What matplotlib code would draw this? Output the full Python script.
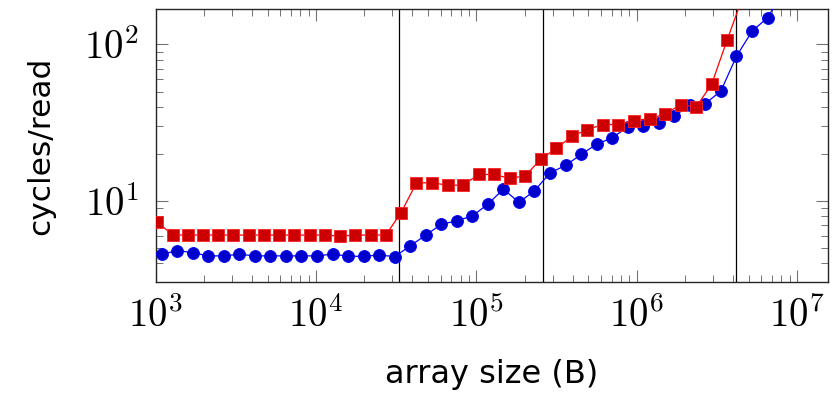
import matplotlib
matplotlib.use('Agg')
import matplotlib.pyplot as plt
import numpy as np
from matplotlib.ticker import LogLocator, NullFormatter, FuncFormatter

plt.rcParams['mathtext.fontset'] = 'cm'
plt.rcParams['font.family'] = 'DejaVu Sans'

# blue series (circles)
blue_size = [1090, 1362, 1703, 2129, 2661, 3326, 4158, 5198, 6497, 8121,
             10152, 12690, 15862, 19828, 24785, 30981, 38726, 48408, 60510, 75637,
             94546, 118183, 147729, 184661, 230826, 288533, 360666, 450833, 563541, 704426,
             880533, 1100666, 1375832, 1719791, 2149738, 2687173, 3358966, 4198707, 5248384, 6560480,
             8200600]
blue_cycles = [4.58, 4.83, 4.69, 4.47, 4.47, 4.58, 4.47, 4.47, 4.47, 4.47,
               4.47, 4.59, 4.45, 4.44, 4.53, 4.42, 5.18, 6.07, 7.10, 7.49,
               8.03, 9.57, 11.92, 9.81, 11.63, 15.14, 16.88, 19.84, 23.07, 25.3,
               29.7, 30.2, 31.5, 34.9, 40.8, 41.9, 50.4, 83.9, 121, 148,
               215]

# red series (squares)
red_size = [1024, 1274, 1586, 1974, 2456, 3057, 3804, 4734, 5892, 7332,
            9125, 11356, 14133, 17588, 21889, 27241, 33901, 42376, 52970, 66213,
            82766, 103458, 129322, 161653, 202066, 252583, 315728, 394661, 493326, 616657,
            770822, 963527, 1204409, 1505511, 1881889, 2352361, 2940451, 3675564, 4594455]
red_cycles = [7.38, 6.07, 6.07, 6.07, 6.07, 6.07, 6.07, 6.07, 6.07, 6.07,
              6.07, 6.07, 5.98, 6.07, 6.07, 6.07, 8.41, 13.08, 13.08, 12.64,
              12.64, 14.79, 14.79, 13.95, 14.5, 18.5, 21.7, 25.9, 28.6, 30.8,
              30.8, 32.5, 33.6, 35.8, 41.3, 39.8, 55.6, 107, 200]

# cache size boundaries
cache_lines = [32768, 262144, 4194304]

fig = plt.figure(figsize=(8.36, 3.99), dpi=100)
ax = fig.add_axes([0.1862, 0.294, 0.8038, 0.6834])

for c in cache_lines:
    ax.axvline(c, color='black', lw=0.9, zorder=1)

ax.plot(blue_size, blue_cycles, '-o', color='#0000ff', lw=0.9,
        markersize=8.6, markerfacecolor='#0000cc', markeredgecolor='#0000ff',
        markeredgewidth=0.6, zorder=3)
ax.plot(red_size, red_cycles, '-s', color='#ff0000', lw=0.9,
        markersize=8.4, markerfacecolor='#cc0000', markeredgecolor='#ff2020',
        markeredgewidth=0.6, zorder=4)

ax.set_xscale('log')
ax.set_yscale('log')
ax.set_xlim(1000, 1.556e7)
ax.set_ylim(3.06, 168)

pow10 = FuncFormatter(lambda v, p: r'$10^{%d}$' % int(round(np.log10(v))))
ax.xaxis.set_major_locator(LogLocator(base=10))
ax.xaxis.set_minor_locator(LogLocator(base=10, subs=range(2, 10)))
ax.yaxis.set_major_locator(LogLocator(base=10))
ax.yaxis.set_minor_locator(LogLocator(base=10, subs=range(2, 10)))
ax.xaxis.set_major_formatter(pow10)
ax.yaxis.set_major_formatter(pow10)
ax.xaxis.set_minor_formatter(NullFormatter())
ax.yaxis.set_minor_formatter(NullFormatter())

ax.tick_params(which='both', direction='in', top=True, right=True,
               color='0.45', labelsize=28)
ax.tick_params(which='major', length=8.5, width=0.8)
ax.tick_params(which='minor', length=5.3, width=0.7)
ax.tick_params(axis='x', which='major', pad=11)
ax.tick_params(axis='y', which='major', pad=12)

for s in ax.spines.values():
    s.set_linewidth(1.0)
    s.set_color('0.15')

ax.set_xlabel('array size (B)', fontsize=23)
ax.set_ylabel('cycles/read', fontsize=22.5)
ax.xaxis.set_label_coords(0.5, -0.285)
ax.yaxis.set_label_coords(-0.149, 0.5)

fig.savefig('out.png', dpi=100)
